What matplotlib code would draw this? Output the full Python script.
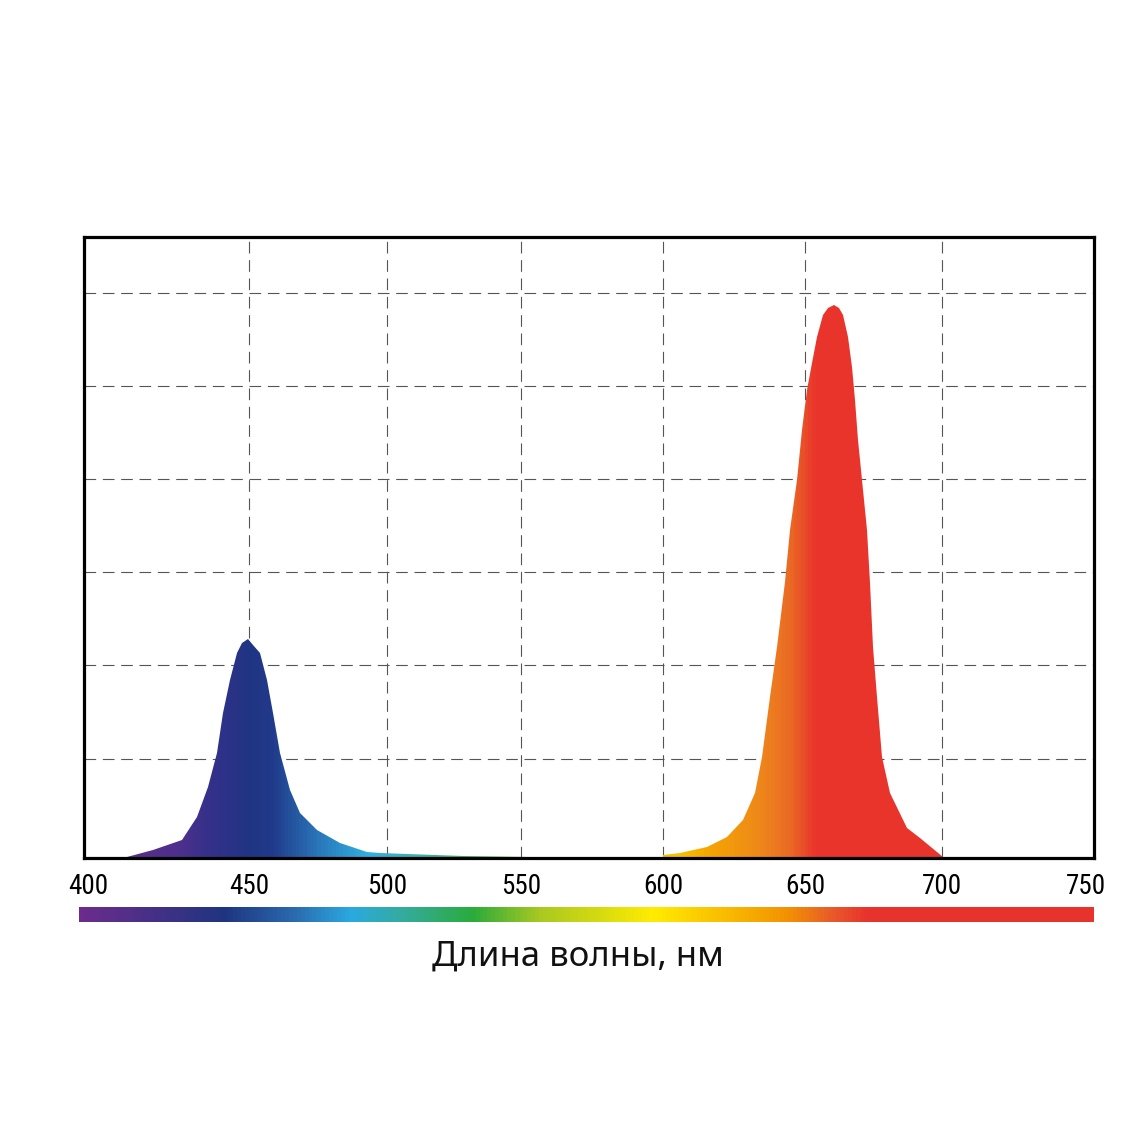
import numpy as np
import matplotlib
matplotlib.use("Agg")
import matplotlib.pyplot as plt
from matplotlib.colors import LinearSegmentedColormap
from matplotlib.patches import Polygon
from matplotlib.transforms import ScaledTranslation

# ---------------- data ----------------
blue_wl = [413.0, 420.9, 429.7, 434.2, 437.6, 440.3, 442.1, 444.2, 446.4, 448.0, 449.7,
           451.5, 454.0, 456.5, 458.7, 461.2, 464.9, 468.5, 474.6, 483.0, 492.8, 497.5,
           528.4, 553.2, 577.8]
blue_val = [0.01, 0.086, 0.19, 0.44, 0.76, 1.13, 1.56, 1.91, 2.20, 2.31, 2.35,
            2.29, 2.20, 1.91, 1.56, 1.13, 0.73, 0.48, 0.30, 0.16, 0.065, 0.054,
            0.02, 0.01, 0.008]
red_wl = [600.0, 606.0, 615.5, 622.5, 628.2, 632.4, 634.9, 637.7, 640.1, 643.0, 644.7,
          647.2, 648.9, 650.7, 652.6, 654.4, 656.6, 658.5, 660.6, 662.4, 663.9, 665.7,
          667.2, 668.2, 669.3, 670.8, 672.6, 673.7, 674.8, 676.3, 678.1, 681.0, 687.2,
          692.0, 700.3, 720.0, 750.0]
red_val = [0.03, 0.054, 0.12, 0.23, 0.41, 0.70, 1.09, 1.73, 2.27, 2.97, 3.53,
           4.06, 4.60, 5.03, 5.32, 5.60, 5.84, 5.91, 5.95, 5.91, 5.84, 5.60,
           5.28, 4.92, 4.49, 4.06, 3.53, 2.96, 2.27, 1.73, 1.09, 0.70, 0.32,
           0.22, 0.01, 0.01, 0.01]

tick_values = [400, 450, 500, 550, 600, 650, 700, 750]
tick_labels = ["400", "450", "500", "550", "600", "650", "700", "750"]
grid_x = [450, 500, 550, 600, 650, 700]
grid_y = [1.065, 2.075, 3.075, 4.075, 5.075, 6.075]
xlabel_text = "Длина волны, нм"

# ---------------- scale (non-uniform axis of the original) ----------------
WL_KNOTS = np.array([400, 450, 500, 550, 600, 650, 700, 750], float)
PX_KNOTS = np.array([84, 249, 387, 521, 663, 805, 942, 1094], float)

def fwd(x):
    return np.interp(x, WL_KNOTS, PX_KNOTS)

def inv(p):
    return np.interp(p, PX_KNOTS, WL_KNOTS)

# colour ramps
fill_stops = [(413, "#5b2d8a"), (429, "#4b2f8c"), (437, "#35308a"), (450, "#1f3583"),
              (458, "#21398a"), (466, "#2456a0"), (478, "#2a80c0"), (493, "#30b0e0"),
              (510, "#3ab0b0"), (540, "#40b050"), (580, "#c8d020"), (606, "#f8c000"),
              (616, "#f5a500"), (633, "#ee8a18"), (645, "#ea6a25"), (654, "#e9342b"),
              (750, "#e9342b")]
bar_stops = [(0.0, "#6b2c8c"), (0.142, "#1f3480"), (0.211, "#2a6aae"), (0.267, "#2aa9e0"),
             (0.32, "#34ab9c"), (0.388, "#2aab3a"), (0.454, "#a8c820"), (0.566, "#ffeb00"),
             (0.698, "#f39200"), (0.743, "#e85a2a"), (0.777, "#e8332c"), (1.0, "#e8332c")]

W = H = 1143
fig = plt.figure(figsize=(W / 100, H / 100), dpi=100)
fig.patch.set_facecolor("white")

ax = fig.add_axes([84 / W, (H - 858) / H, 1010 / W, 621 / H])
ax.set_xscale("function", functions=(fwd, inv))
ax.set_xlim(400, 750)
ax.set_ylim(0, 6.677)

# fill colour map (wavelength based)
lo, hi = fill_stops[0][0], fill_stops[-1][0]
fill_cmap = LinearSegmentedColormap.from_list(
    "fill", [((w - lo) / (hi - lo), c) for w, c in fill_stops])

xe = np.linspace(400, 750, 1401)
xc = 0.5 * (xe[:-1] + xe[1:])
cvals = np.clip((xc - lo) / (hi - lo), 0, 1)

for wl, val in ((blue_wl, blue_val), (red_wl, red_val)):
    verts = [(wl[0], 0)] + list(zip(wl, val)) + [(wl[-1], 0)]
    patch = Polygon(verts, closed=True, facecolor="none", edgecolor="none")
    ax.add_patch(patch)
    mesh = ax.pcolormesh(xe, [0, 7], cvals[np.newaxis, :], cmap=fill_cmap,
                         vmin=0, vmax=1, shading="flat", zorder=1,
                         antialiased=False)
    mesh.set_clip_path(patch)

# grid lines
for gx in grid_x:
    ax.axvline(gx, color="#555555", lw=0.8, ls=(0, (10.5, 6)), zorder=0.5)
for gy in grid_y:
    ax.axhline(gy, color="#555555", lw=0.8, ls=(0, (10.5, 6)), zorder=0.5)

for s in ax.spines.values():
    s.set_linewidth(2.3)
    s.set_color("black")
    s.set_zorder(5)

ax.set_xticks(tick_values)
ax.set_xticklabels(tick_labels)
ax.tick_params(axis="x", length=0, pad=10.5, labelsize=19.5)
labels = ax.get_xticklabels()
for t in labels:
    t.set_fontfamily(["Liberation Sans Narrow", "Roboto Condensed", "DejaVu Sans"])
labels[0].set_transform(labels[0].get_transform() + ScaledTranslation(4 / 100, 0, fig.dpi_scale_trans))
labels[-1].set_transform(labels[-1].get_transform() + ScaledTranslation(-8 / 100, 0, fig.dpi_scale_trans))
ax.set_yticks([])

# spectrum bar
bax = fig.add_axes([79 / W, (H - 922) / H, 1015 / W, 15 / H])
bar_cmap = LinearSegmentedColormap.from_list("bar", bar_stops)
bx = np.linspace(0, 1, 1001)
bax.pcolormesh(bx, [0, 1], (0.5 * (bx[:-1] + bx[1:]))[np.newaxis, :], cmap=bar_cmap,
               vmin=0, vmax=1, shading="flat")
bax.set_xlim(0, 1)
bax.set_ylim(0, 1)
bax.axis("off")

fig.text(578 / W, 1 - 957 / H, xlabel_text, ha="center", va="center",
         fontsize=25, family=["Noto Sans", "DejaVu Sans"], color="#111111")

fig.savefig("out.png", dpi=100, facecolor="white")
